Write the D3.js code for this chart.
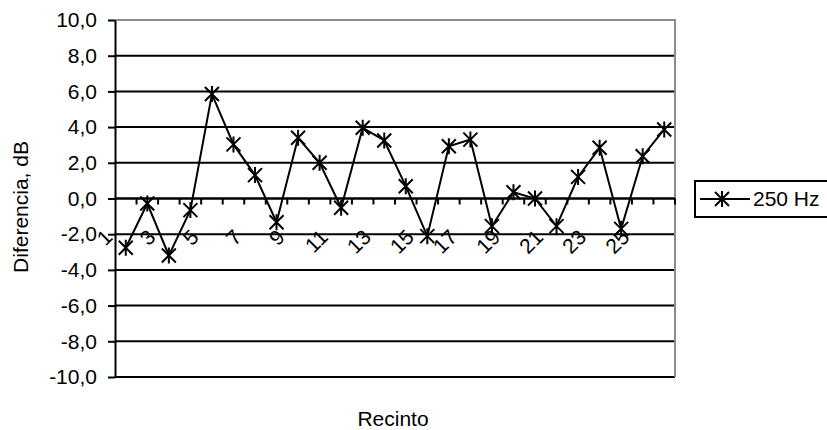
<!DOCTYPE html>
<html>
<head>
<meta charset="utf-8">
<script src="https://cdn.jsdelivr.net/npm/d3@7"></script>
<style>
html,body{margin:0;padding:0;background:#fff;}
svg{display:block;font-family:"Liberation Sans",Arial,sans-serif;}
</style>
</head>
<body>
<svg id="chart" width="827" height="430"></svg>
<script>
const categories = ["1","2","3","4","5","6","7","8","9","10","11","12","13","14","15","16","17","18","19","20","21","22","23","24","25","26"];
const values250 = [-2.76,-0.28,-3.19,-0.65,5.85,3.03,1.31,-1.33,3.40,2.00,-0.52,3.96,3.25,0.69,-2.11,2.93,3.30,-1.55,0.35,0.00,-1.55,1.21,2.84,-1.70,2.37,3.87];
const yTicks = [-10,-8,-6,-4,-2,0,2,4,6,8,10];
const xLabelCats = ["1","3","5","7","9","11","13","15","17","19","21","23","25"];
const seriesName = "250 Hz";
const yTitle = "Diferencia, dB";
const xTitle = "Recinto";

const svg = d3.select("#chart");
const L = 115, R = 675, T = 20, B = 377;
const fs = 21;

const x = d3.scaleBand().domain(categories).range([L, R]).padding(0);
const y = d3.scaleLinear().domain([-10, 10]).range([B, T]);
const cx = c => x(c) + x.bandwidth() / 2;
const loc = d3.formatLocale({decimal: ",", thousands: ".", grouping: [3], currency: ["", ""], minus: "-"});
const fmt = loc.format(".1f");

// gridlines
svg.append("g").selectAll("line").data(yTicks.filter(t => t < 10)).join("line")
  .attr("x1", L).attr("x2", R).attr("y1", d => y(d)).attr("y2", d => y(d))
  .attr("stroke", "#000").attr("stroke-width", 2);

// plot border top/right gray
svg.append("path").attr("d", `M${L},${T}H${R}V${B}`).attr("fill", "none")
  .attr("stroke", "#8c8c8c").attr("stroke-width", 2);

// y axis
const yAxis = d3.axisLeft(y).tickValues(yTicks).tickSize(7).tickSizeOuter(0).tickFormat(fmt);
const gy = svg.append("g").attr("transform", `translate(${L},0)`).call(yAxis);
gy.select(".domain").attr("stroke", "#000").attr("stroke-width", 2);
gy.selectAll(".tick line").attr("stroke", "#000").attr("stroke-width", 2);
gy.selectAll(".tick text").attr("x", -18).attr("font-size", fs).attr("font-family", "Liberation Sans, Arial, sans-serif").attr("fill", "#000");

// x axis at zero
const gx = svg.append("g").attr("transform", `translate(0,${y(0)})`);
gx.append("line").attr("x1", L).attr("x2", R).attr("stroke", "#000").attr("stroke-width", 2);
gx.selectAll("line.tk").data(categories).join("line").attr("class", "tk")
  .attr("x1", d => x(d) + x.bandwidth()).attr("x2", d => x(d) + x.bandwidth())
  .attr("y1", 0).attr("y2", 6).attr("stroke", "#000").attr("stroke-width", 2);
gx.selectAll("text").data(xLabelCats).join("text")
  .attr("transform", d => `translate(${cx(d) - 12},40) rotate(-45)`)
  .attr("text-anchor", "end").attr("font-size", fs).attr("fill", "#000").text(d => d);

// series line
const line = d3.line().x((d, i) => cx(categories[i])).y(d => y(d));
svg.append("path").datum(values250).attr("d", line).attr("fill", "none")
  .attr("stroke", "#000").attr("stroke-width", 2);

const star = "M-7,-7L7,7M-7,7L7,-7M0,-8L0,8";
svg.append("g").selectAll("path").data(values250).join("path")
  .attr("transform", (d, i) => `translate(${cx(categories[i])},${y(d)})`)
  .attr("d", star).attr("stroke", "#000").attr("stroke-width", 2).attr("fill", "none");

// titles
svg.append("text").attr("transform", `translate(28,207) rotate(-90)`)
  .attr("text-anchor", "middle").attr("font-size", fs).attr("fill", "#000").text(yTitle);
svg.append("text").attr("x", 393).attr("y", 426)
  .attr("text-anchor", "middle").attr("font-size", fs).attr("fill", "#000").text(xTitle);

// legend
const lg = svg.append("g");
lg.append("rect").attr("x", 695).attr("y", 181).attr("width", 160).attr("height", 36)
  .attr("fill", "#fff").attr("stroke", "#000").attr("stroke-width", 2);
lg.append("line").attr("x1", 700).attr("x2", 750).attr("y1", 199).attr("y2", 199)
  .attr("stroke", "#000").attr("stroke-width", 2);
lg.append("path").attr("transform", "translate(722,199)").attr("d", star)
  .attr("stroke", "#000").attr("stroke-width", 2).attr("fill", "none");
lg.append("text").attr("x", 753).attr("y", 206).attr("font-size", fs).attr("fill", "#000").text(seriesName);
</script>
</body>
</html>
